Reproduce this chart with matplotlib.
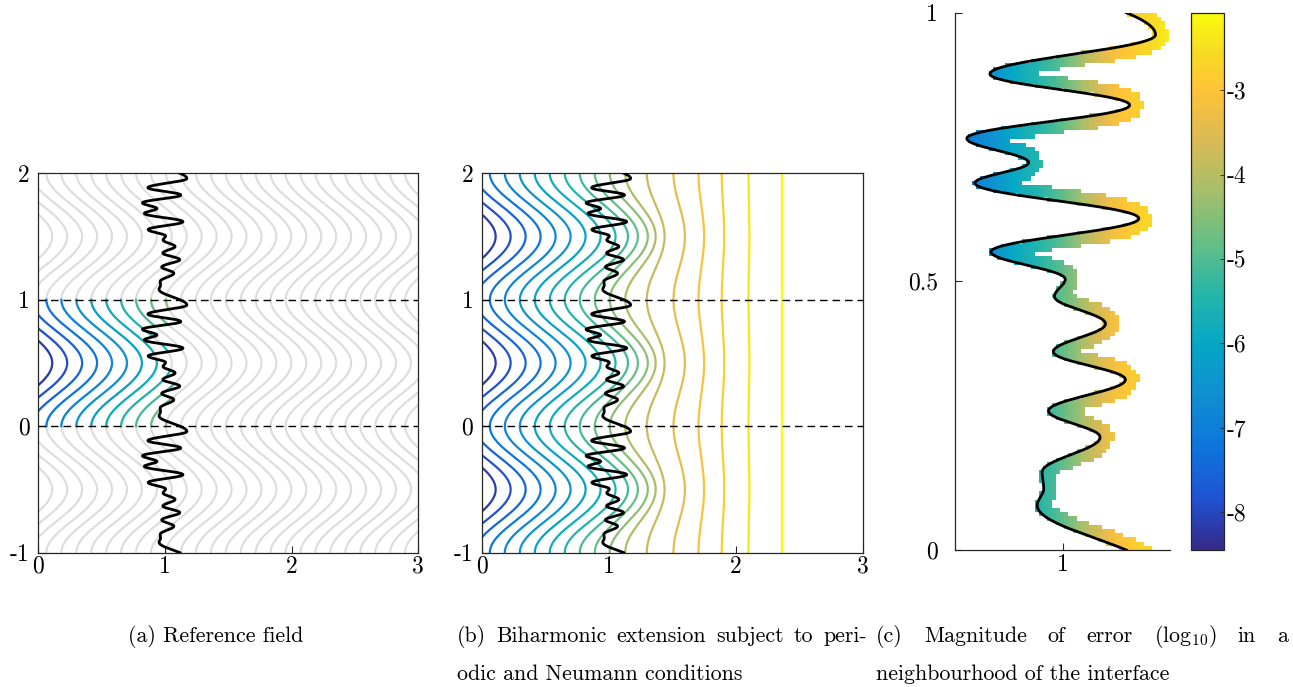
import numpy as np
import matplotlib
matplotlib.use('Agg')
import matplotlib.pyplot as plt
from matplotlib.colors import LinearSegmentedColormap

plt.rcParams['font.family'] = ['cmr10', 'DejaVu Serif']
plt.rcParams['mathtext.fontset'] = 'cm'
plt.rcParams['axes.unicode_minus'] = False

# interface x(y): turning points over one period
iface_y = [0.083, 0.114, 0.145, 0.210, 0.259, 0.317, 0.369, 0.421, 0.472,
           0.504, 0.555, 0.617, 0.683, 0.721, 0.766, 0.828, 0.886, 0.959]
iface_x = [0.953, 0.965, 0.962, 1.070, 0.974, 1.117, 0.983, 1.080, 0.985,
           1.005, 0.867, 1.142, 0.837, 0.937, 0.822, 1.125, 0.865, 1.173]

# contour lines of panel (b): x at y=0 and half of the swing
level_min = [-0.290, -0.172, -0.054, 0.064, 0.182, 0.300, 0.418, 0.536, 0.654, 0.772,
             0.890, 1.008, 1.130, 1.300, 1.510, 1.707, 1.890, 2.100, 2.364]
level_amp = [0.2, 0.2, 0.2, 0.2, 0.2, 0.2, 0.2, 0.2, 0.2, 0.19,
             0.17, 0.15, 0.12, 0.07, 0.045, 0.022, 0.01, 0.004, 0.0]
ref_amp = 0.2
ref_spacing = 0.118

# log10 error vs x in panel (c)
err_x = [0.80, 0.85, 0.90, 0.95, 1.00, 1.05, 1.10, 1.15, 1.20]
err_v = [-7.4, -6.8, -6.1, -5.5, -4.9, -3.9, -3.1, -2.7, -2.3]
clim = (-8.45, -2.08)
cb_ticks = [-8, -7, -6, -5, -4, -3]

parula = LinearSegmentedColormap.from_list('parula', [
    (0 / 63, (0.2081, 0.1663, 0.5292)),
    (6 / 63, (0.1253, 0.3242, 0.8303)),
    (12 / 63, (0.0498, 0.4586, 0.8641)),
    (18 / 63, (0.0641, 0.5570, 0.8240)),
    (24 / 63, (0.0228, 0.6535, 0.7768)),
    (30 / 63, (0.1453, 0.7098, 0.6646)),
    (36 / 63, (0.3953, 0.7459, 0.5244)),
    (42 / 63, (0.6473, 0.7456, 0.4188)),
    (48 / 63, (0.8507, 0.7299, 0.3360)),
    (54 / 63, (0.9990, 0.7653, 0.2164)),
    (58 / 63, (0.9697, 0.8481, 0.1475)),
    (63 / 63, (0.9763, 0.9831, 0.0538))])

W, H = 1293, 687
fig = plt.figure(figsize=(W / 100, H / 100), dpi=100)
TICK = 17
CAP = 15.8


def px_axes(l, t, r, b):
    return fig.add_axes([l / W, 1 - b / H, (r - l) / W, (b - t) / H])


def interface(yy):
    ey = np.concatenate([np.array(iface_y) + n for n in range(-2, 3)])
    ex = np.tile(iface_x, 5)
    i = np.searchsorted(ey, yy, side='right') - 1
    t = (yy - ey[i]) / (ey[i + 1] - ey[i])
    return ex[i] + (ex[i + 1] - ex[i]) * (1 - np.cos(np.pi * t)) / 2


def style(ax, box=True):
    for s in ax.spines.values():
        s.set_color('#262626')
        s.set_linewidth(0.9)
    ax.tick_params(direction='in', length=5, width=0.8, color='#262626',
                   labelsize=TICK, pad=3)
    if not box:
        ax.spines['top'].set_visible(False)
        ax.spines['right'].set_visible(False)


colors = [parula(0.04 + 0.96 * k / (len(level_min) - 1)) for k in range(len(level_min))]
yy = np.linspace(-1, 2, 3001)
xi = interface(yy)
wave = 1 - np.cos(2 * np.pi * yy)

# ---- (a) reference field
ax = px_axes(38.3, 173.3, 418.3, 552.7)
for m in np.arange(level_min[0] - ref_spacing, 3.3, ref_spacing):
    ax.plot(m + ref_amp * wave, yy, color='#dcdcdc', lw=1.5, zorder=1)
for k in range(12):
    x = level_min[k] + ref_amp * wave
    x = np.where((yy >= 0) & (yy <= 1) & (x <= xi), x, np.nan)
    ax.plot(x, yy, color=colors[k], lw=1.6, zorder=2)

# ---- (b) biharmonic extension
bx = px_axes(481.7, 173.3, 862.7, 552.7)
for k in range(len(level_min)):
    bx.plot(level_min[k] + level_amp[k] * wave, yy, color=colors[k], lw=1.6, zorder=2)

for a in (ax, bx):
    a.plot(xi, yy, color='k', lw=2.0, zorder=4)
    for yl in (0, 1):
        a.axhline(yl, color='k', lw=1.0, dashes=(5.5, 3.5), zorder=3)
    a.set_xlim(0, 3)
    a.set_ylim(-1, 2)
    a.set_xticks([0, 1, 2, 3])
    a.set_xticklabels(['0', '1', '2', '3'])
    a.set_yticks([-1, 0, 1, 2])
    a.set_yticklabels(['-1', '0', '1', '2'])
    style(a)
    a.tick_params(axis='y', pad=6)
    a.tick_params(axis='x', pad=2)

# ---- (c) error near the interface
cx = px_axes(955, 12.7, 1170, 550)
h = 1 / 128
xe = 0.8 + h * np.arange(52)
ye = h * np.arange(129)
XC, YC = np.meshgrid(xe[:-1] + h / 2, ye[:-1] + h / 2)
ys = np.linspace(-0.1, 1.1, 1500)
xs = interface(ys)
dist = np.empty_like(XC)
for j in range(XC.shape[0]):
    d = np.hypot(XC[j][:, None] - xs[None, :], YC[j][:, None] - ys[None, :])
    dist[j] = d.min(axis=1)
mask = (XC < interface(YC) - 0.5 * h) | (dist > 0.024)
vals = np.ma.array(np.interp(XC, err_x, err_v), mask=mask)
pcm = cx.pcolormesh(xe, ye, vals, cmap=parula, vmin=clim[0], vmax=clim[1], zorder=1)
y01 = np.linspace(0, 1, 1001)
cx.plot(interface(y01), y01, color='k', lw=2.0, zorder=3)
cx.set_xlim(0.8, 1.2)
cx.set_ylim(0, 1)
cx.set_xticks([1])
cx.set_xticklabels(['1'])
cx.set_yticks([0, 0.5, 1])
cx.set_yticklabels(['0', '0.5', '1'])
style(cx, box=False)
cx.tick_params(axis='y', pad=12)
cx.tick_params(axis='x', pad=3)

cax = px_axes(1190.7, 12.7, 1224, 550)
cb = fig.colorbar(pcm, cax=cax, ticks=cb_ticks)
cb.ax.set_yticklabels([str(t) for t in cb_ticks])
cb.outline.set_edgecolor('#262626')
cb.outline.set_linewidth(0.9)
cb.ax.tick_params(direction='in', length=3, width=0.6, color='#262626',
                  labelsize=TICK, pad=2)

# ---- captions
renderer = fig.canvas.get_renderer()


def caption(words, x0, y, x1=None):
    ts = [fig.text(x0 / W, 1 - y / H, w, fontsize=CAP, va='baseline') for w in words]
    if x1 is None:
        return
    ws = [t.get_window_extent(renderer).width for t in ts]
    gap = (x1 - x0 - sum(ws)) / (len(words) - 1)
    x = x0
    for t, w in zip(ts, ws):
        t.set_x(x / W)
        x += w + gap


caption(['(a) Reference field'], 128, 642)
caption(['(b)', 'Biharmonic', 'extension', 'subject', 'to', 'peri-'], 457, 642, 867)
caption(['odic and Neumann conditions'], 457, 680)
caption(['(c)', 'Magnitude', 'of', 'error', '(log$_{10}$)', 'in', 'a'], 876, 642, 1288)
caption(['neighbourhood of the interface'], 876, 680)

fig.savefig('out.png', dpi=100, facecolor='white')
